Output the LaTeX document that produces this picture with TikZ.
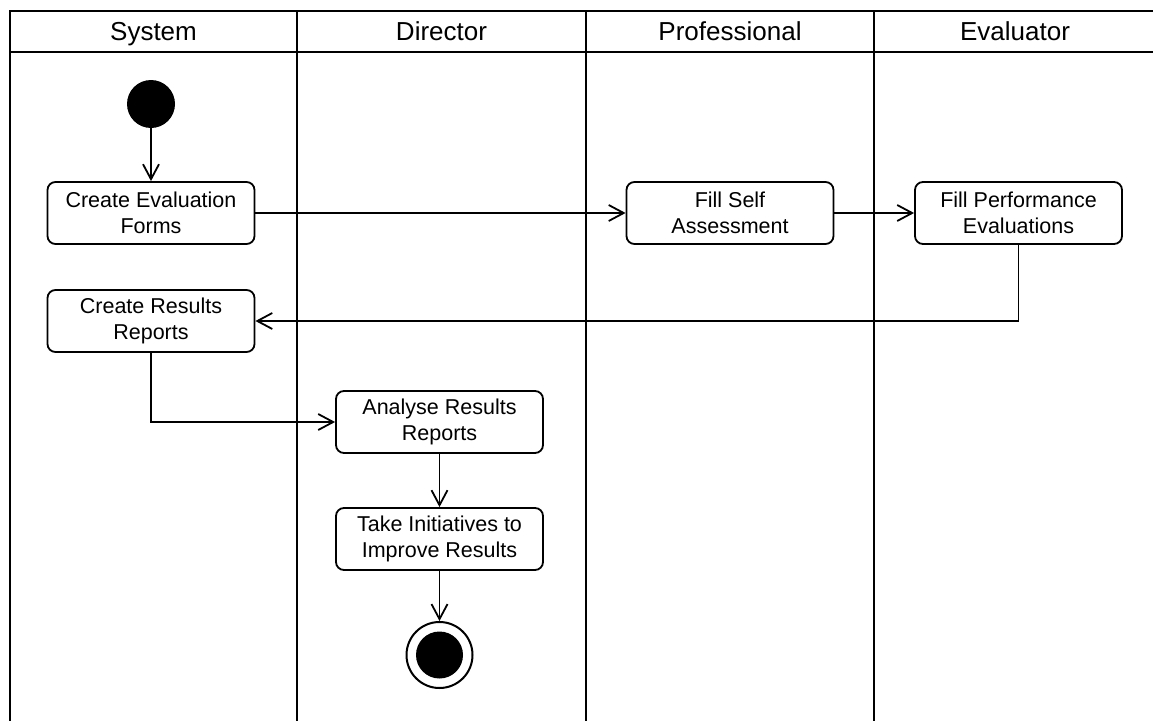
\documentclass[tikz,border=0pt]{standalone}
\usepackage{fontspec}
\setmainfont{Liberation Sans}
\usetikzlibrary{arrows.meta}

\tikzset{
  activity/.style={draw, line width=1.8pt, rounded corners=8pt, align=center,
    minimum width=207pt, minimum height=62pt, inner sep=2pt,
    font=\fontsize{21.5}{26}\selectfont},
  lanelabel/.style={anchor=base, font=\fontsize{26}{30}\selectfont},
  flow/.style={line width=1.8pt, -{Straight Barb[length=15pt,width=16pt,line width=1.8pt]}},
  lane/.style={line width=2.2pt}
}

\begin{document}
\begin{tikzpicture}[x=1pt,y={(0pt,-1pt)}]
	\useasboundingbox (0,0) rectangle (1153,720);
	\clip (0,0) rectangle (1153,720);
	% swimlanes
	\draw[lane] (10,740) -- (10,11) -- (1170,11);
	\draw[lane] (10,52) -- (1170,52);
	\foreach \x in {297,586,874} \draw[lane] (\x,11) -- (\x,740);
	\node[lanelabel] (lsys) at (153.5,40) {System};
	\node[lanelabel] (ldir) at (441.5,40) {Director};
	\node[lanelabel] (lpro) at (730,40) {Professional};
	\node[lanelabel] (leva) at (1015,40) {Evaluator};
	% activities
	\node[circle, fill, minimum size=48pt, inner sep=0pt] (start) at (151,104) {};
	\node[activity] (forms) at (151,213) {Create Evaluation\\Forms};
	\node[activity] (self) at (730,213) {Fill Self\\Assessment};
	\node[activity] (perf) at (1018.5,213) {Fill Performance\\Evaluations};
	\node[activity] (results) at (151,321) {Create Results\\Reports};
	\node[activity] (analyse) at (439.5,422) {Analyse Results\\Reports};
	\node[activity] (initiatives) at (439.5,539) {Take Initiatives to\\Improve Results};
	\node[circle, draw, line width=2pt, minimum size=66pt, inner sep=0pt] (stop) at (439.5,655) {};
	\node[circle, fill, minimum size=47pt, inner sep=0pt] (stopdot) at (stop) {};
	% flows
	\draw[flow] (start) -- (forms);
	\draw[flow] (forms) -- (self);
	\draw[flow] (self) -- (perf);
	\draw[flow] (perf.south) |- (results.east);
	\draw[flow] (results.south) |- (analyse.west);
	\draw[flow] (analyse) -- (initiatives);
	\draw[flow] (initiatives) -- (stop);
\end{tikzpicture}
\end{document}
